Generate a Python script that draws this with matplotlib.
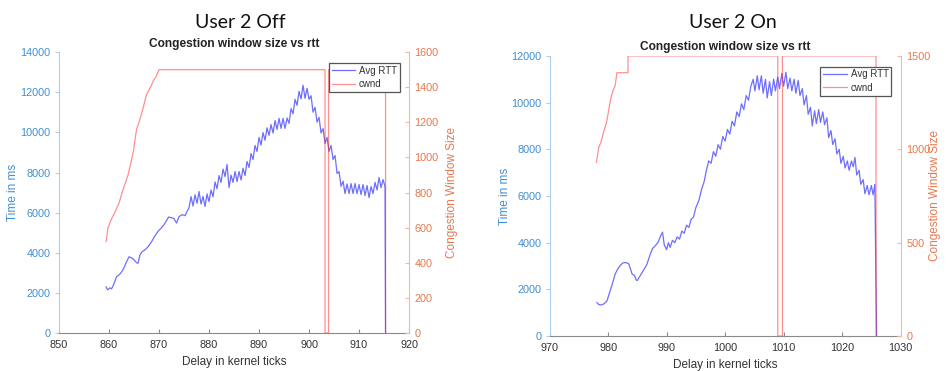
import matplotlib.pyplot as plt

# --- left panel: User 2 Off ---
off_rtt_t = [859.4, 859.7, 860.2, 860.5, 860.9, 861.2, 861.5, 862.0, 862.4, 862.9,
             863.4, 864.0, 864.5, 865.0, 865.5, 865.8, 866.2, 866.6, 867.2, 867.8,
             868.5, 869.2, 869.9, 870.5, 871.0, 871.5, 871.9, 872.5, 873.0, 873.5,
             874.0, 874.6, 875.2, 875.6,
             876.0, 876.4, 876.8, 877.2, 877.6, 878.0, 878.4, 878.8, 879.2, 879.6,
             880.0, 880.4, 880.8, 881.2, 881.6, 882.0, 882.4, 882.8, 883.2, 883.6,
             884.0, 884.4, 884.8, 885.2, 885.6, 886.0, 886.4, 886.8, 887.2, 887.6,
             888.0, 888.4, 888.8, 889.2, 889.6, 890.0, 890.4, 890.8, 891.2, 891.6,
             892.0, 892.4, 892.8, 893.2, 893.6, 894.0, 894.4, 894.8, 895.2, 895.6,
             896.0, 896.4, 896.8, 897.2, 897.6, 898.0, 898.4, 898.8, 899.2, 899.6,
             900.0, 900.4, 900.8, 901.2, 901.6, 902.0, 902.4, 902.8, 903.2, 903.6,
             904.0, 904.4, 904.8, 905.2, 905.6, 906.0, 906.4, 906.8, 907.2, 907.6,
             908.0, 908.4, 908.8, 909.2, 909.6, 910.0, 910.4, 910.8, 911.2, 911.6,
             912.0, 912.4, 912.8, 913.2, 913.6, 914.0, 914.4, 914.8, 915.2, 915.3]
off_rtt_v = [2300, 2150, 2250, 2200, 2400, 2600, 2800, 2900, 3000, 3200,
             3500, 3800, 3750, 3650, 3500, 3480, 3900, 4050, 4150, 4300,
             4550, 4850, 5100, 5250, 5400, 5600, 5780, 5750, 5700, 5480,
             5800, 5900, 5850, 6050,
             6250, 6800, 6330, 6890, 6470, 7050, 6430, 6810, 6310, 6930,
             6550, 7130, 6790, 7530, 7190, 7850, 7510, 8170, 7800, 8400,
             7250, 7870, 7510, 8050, 7550, 8050, 7630, 8210, 7850, 8550,
             8250, 8950, 8650, 9350, 9050, 9750, 9370, 9990, 9610, 10230,
             9850, 10390, 9970, 10590, 10150, 10700, 10200, 10700, 10200, 10720,
             10450, 11190, 10930, 11650, 11350, 12050, 11670, 12350, 11700, 12200,
             11650, 11830, 11010, 11250, 10510, 10750, 9970, 10190, 9450, 9750,
             9050, 9350, 8650, 8850, 7950, 8050, 7310, 7570, 6950, 7430,
             6950, 7450, 6950, 7450, 6950, 7400, 6900, 7400, 6850, 7350,
             6750, 7300, 6950, 7510, 7130, 7750, 7250, 7650, 7300, 0]
off_cwnd_t = [859.4, 859.8, 860.5, 861.2, 862.0, 862.6, 863.2, 863.8, 864.3, 864.9,
              865.5, 866.0, 866.8, 867.5, 868.3, 868.9, 869.4, 870.0,
              903.2, 903.2, 903.9, 903.9, 915.3, 915.3]
off_cwnd_v = [520, 600, 650, 690, 740, 800, 850, 900, 960, 1040,
              1160, 1200, 1280, 1360, 1400, 1440, 1460, 1500,
              1500, 0, 0, 1500, 1500, 0]

# --- right panel: User 2 On ---
on_rtt_t = [978.1, 978.4, 978.8, 979.3, 979.8, 980.3, 980.8, 981.2, 981.6, 982.0,
            982.5, 983.0, 983.5, 983.8, 984.1, 984.5, 984.8, 985.0, 985.4, 986.0,
            986.6, 987.2, 987.6, 988.0, 988.5, 989.0, 989.3, 989.6, 990.0, 990.3,
            990.6, 991.0, 991.4, 991.8, 992.2, 992.6, 993.0, 993.4, 993.8, 994.2,
            994.6, 995.0, 995.5, 996.0, 996.4, 996.8, 997.2, 997.6, 998.0, 998.4,
            998.8, 999.2, 999.6, 1000.0, 1000.4, 1000.8, 1001.2, 1001.6, 1002.0, 1002.4,
            1002.8, 1003.2, 1003.6, 1004.0, 1004.4, 1004.8, 1005.1, 1005.5, 1005.8, 1006.2,
            1006.5, 1006.9, 1007.2, 1007.6, 1007.9, 1008.3, 1008.6, 1009.0, 1009.3, 1009.7,
            1010.0, 1010.4, 1010.7, 1011.1, 1011.4, 1011.8, 1012.1, 1012.5, 1012.8, 1013.2,
            1013.5, 1013.9, 1014.2, 1014.6, 1014.9, 1015.3, 1015.6, 1016.0, 1016.3, 1016.7,
            1017.0, 1017.4, 1017.7, 1018.1, 1018.4, 1018.8, 1019.1, 1019.5, 1019.8, 1020.2,
            1020.5, 1020.9, 1021.2, 1021.6, 1021.9, 1022.2, 1022.5, 1022.9, 1023.2, 1023.6,
            1023.9, 1024.3, 1024.6, 1025.0, 1025.3, 1025.6, 1025.9]
on_rtt_v = [1430, 1350, 1330, 1380, 1500, 1900, 2300, 2650, 2850, 3000,
            3130, 3150, 3100, 2900, 2650, 2600, 2400, 2380, 2550, 2800,
            3050, 3500, 3750, 3850, 4000, 4300, 4450, 3900, 3700, 4000,
            3800, 4100, 4000, 4250, 4150, 4500, 4400, 4750, 4650, 5000,
            5100, 5500, 5800, 6300, 6600, 7100, 7500, 7400, 7900, 7700,
            8200, 8000, 8550, 8350, 8850, 8650, 9200, 9000, 9600, 9400,
            9950, 9700, 10300, 10100, 10700, 11000, 10500, 11150, 10550, 11150,
            10400, 11000, 10200, 10900, 10300, 11000, 10500, 11100, 10600, 11250,
            10700, 11300, 10600, 11050, 10500, 11000, 10400, 10950, 10300, 10600,
            9900, 10300, 9500, 9800, 9000, 9650, 9100, 9700, 9150, 9600,
            9050, 9350, 8500, 8800, 8200, 8450, 7800, 8000, 7400, 7700,
            7200, 7500, 7100, 7500, 7250, 7650, 6900, 7100, 6500, 6700,
            6100, 6450, 6050, 6450, 6050, 6500, 0]
on_cwnd_t = [978.0, 978.4, 978.8, 979.2, 979.7, 980.1, 980.5, 980.9, 981.2, 981.5,
             983.4, 983.4, 1009.0, 1009.0, 1009.8, 1009.8, 1025.8, 1025.8]
on_cwnd_v = [930, 1010, 1040, 1090, 1140, 1210, 1280, 1320, 1340, 1410,
             1410, 1500, 1500, 0, 0, 1500, 1500, 0]

panels = [
    dict(name="User 2 Off", rect=[0.0624, 0.1024, 0.370, 0.757], cx=240,
         rtt_t=off_rtt_t, rtt_v=off_rtt_v, cw_t=off_cwnd_t, cw_v=off_cwnd_v,
         xlim=(850, 920), xt=[850, 860, 870, 880, 890, 900, 910, 920],
         ylim=(0, 14000), yt=[0, 2000, 4000, 6000, 8000, 10000, 12000, 14000],
         y2lim=(0, 1600), y2t=[0, 200, 400, 600, 800, 1000, 1200, 1400, 1600],
         ylab_x=-0.131, y2lab_x=1.123),
    dict(name="User 2 On", rect=[0.581, 0.0943, 0.371, 0.755], cx=733,
         rtt_t=on_rtt_t, rtt_v=on_rtt_v, cw_t=on_cwnd_t, cw_v=on_cwnd_v,
         xlim=(970, 1030), xt=[970, 980, 990, 1000, 1010, 1020, 1030],
         ylim=(0, 12000), yt=[0, 2000, 4000, 6000, 8000, 10000, 12000],
         y2lim=(0, 1500), y2t=[0, 500, 1000, 1500],
         ylab_x=-0.128, y2lab_x=1.098),
]

BLUE_TXT = '#3f8fd2'
BLUE_SP = '#a9cdea'
ORG_TXT = '#e6784f'
ORG_SP = '#f5b7a0'
FONT = 'Liberation Sans'

fig = plt.figure(figsize=(9.46, 3.71), dpi=100)

for p in panels:
    ax = fig.add_axes(p['rect'])
    ax2 = ax.twinx()

    l1, = ax.plot(p['rtt_t'], p['rtt_v'], color='#2020ff', alpha=0.65, lw=0.9)
    l2, = ax2.plot(p['cw_t'], p['cw_v'], color='#ff2020', alpha=0.5, lw=0.9)

    ax.set_xlim(*p['xlim'])
    ax.set_ylim(*p['ylim'])
    ax2.set_ylim(*p['y2lim'])
    ax.set_xticks(p['xt'])
    ax.set_yticks(p['yt'])
    ax2.set_yticks(p['y2t'])

    for a in (ax, ax2):
        a.spines['top'].set_visible(False)
        for lab in a.get_xticklabels() + a.get_yticklabels():
            lab.set_fontfamily(FONT)
    ax.spines['right'].set_visible(False)
    ax2.spines['left'].set_visible(False)
    ax2.spines['bottom'].set_visible(False)
    ax.spines['left'].set_color(BLUE_SP)
    ax.spines['bottom'].set_color('#8a8a8a')
    ax2.spines['right'].set_color(ORG_SP)

    ax.tick_params(axis='x', direction='in', length=3, labelsize=7.8,
                   colors='#8a8a8a', labelcolor='#333333', pad=5)
    ax.tick_params(axis='y', direction='out', length=3, labelsize=7.8,
                   colors=BLUE_SP, labelcolor=BLUE_TXT, pad=3)
    ax2.tick_params(axis='y', direction='in', length=3, labelsize=7.8,
                    colors=ORG_SP, labelcolor=ORG_TXT, pad=4)

    ax.set_xlabel("Delay in kernel ticks", fontsize=8.5, family=FONT,
                  color='#333333', labelpad=4)
    ax.set_ylabel("Time in ms", fontsize=8.5, family=FONT, color=BLUE_TXT)
    ax2.set_ylabel("Congestion Window Size", fontsize=8.5, family=FONT,
                   color=ORG_TXT)
    ax.yaxis.set_label_coords(p['ylab_x'], 0.5)
    ax2.yaxis.set_label_coords(p['y2lab_x'], 0.5)
    ax.yaxis.label.set_va('center')
    ax2.yaxis.label.set_va('center')
    ax.set_title("Congestion window size vs rtt", fontsize=8.6, family=FONT,
                 fontweight='bold', color='#222222', pad=4)

    leg = ax2.legend([l1, l2], ["Avg RTT", "cwnd"], loc='upper right',
                     bbox_to_anchor=(0.974, 0.962), borderaxespad=0,
                     frameon=True, fancybox=False, framealpha=1,
                     edgecolor='#555555', handlelength=2.4, handletextpad=0.4,
                     borderpad=0.3, labelspacing=0.35,
                     prop={'family': FONT, 'size': 7})
    leg.get_frame().set_linewidth(0.9)
    for t in leg.get_texts():
        t.set_color('#333333')

    fig.text(p['cx'] / 946, 1 - 22 / 371, p['name'], ha='center', va='center',
             fontsize=14, family='Lato', color='#111111')

fig.savefig("out.png", dpi=100)
